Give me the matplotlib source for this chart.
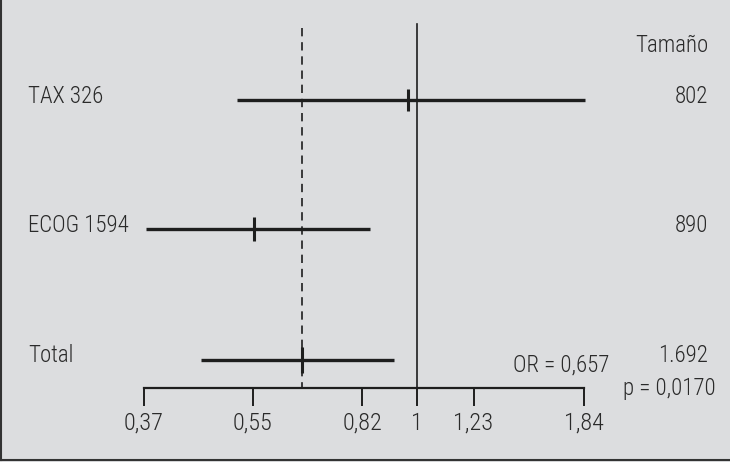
import matplotlib
matplotlib.use("Agg")
import matplotlib.pyplot as plt
from matplotlib.lines import Line2D
import numpy as np

# ---- data ----
studies = ["TAX 326", "ECOG 1594", "Total"]
or_point = [0.967, 0.553, 0.657]
ci_low = [0.519, 0.373, 0.456]
ci_high = [1.85, 0.844, 0.922]
sizes = ["802", "890", "1.692"]
tick_values = [0.37, 0.55, 0.82, 1, 1.23, 1.84]
tick_labels = ["0,37", "0,55", "0,82", "1", "1,23", "1,84"]
pooled_or = 0.657
or_text = "OR = 0,657"
p_text = "p = 0,0170"
size_header = "Tamaño"

# ---- style ----
W, H = 730, 462
bg = "#dcdddf"
ink = "#1e1e1e"
txt = "#2a2a2a"
fam = ["Roboto Condensed", "Liberation Sans Narrow", "Roboto", "DejaVu Sans"]
fs = 16.5
plt.rcParams["font.family"] = fam
plt.rcParams["font.weight"] = 300

fig = plt.figure(figsize=(W / 100, H / 100), dpi=100, facecolor=bg)
ax = fig.add_axes([0, 0, 1, 1], facecolor=bg)
ax.set_xscale("log")
# map 0.37 -> px 144 and 1.84 -> px 584
x0p, x1p = 144, 584
r = np.log(1.84 / 0.37) / (x1p - x0p)
ax.set_xlim(0.37 * np.exp(-x0p * r), 0.37 * np.exp((W - x0p) * r))
ax.set_ylim(H, 0)

row_y = [100, 229, 360]
tick_half = [11, 12, 13]
axis_y = 388

for y, p, lo, hi, th in zip(row_y, or_point, ci_low, ci_high, tick_half):
    ax.plot([lo, hi], [y, y], color=ink, lw=2.4, solid_capstyle="butt")
    ax.plot([p, p], [y - th, y + th], color=ink, lw=2.2, solid_capstyle="butt")

ax.plot([1, 1], [24, axis_y], color=ink, lw=1.2)
ax.plot([pooled_or, pooled_or], [28, axis_y], color=ink, lw=1.2,
        dashes=(5, 3.5))

# axis
for s in ["top", "left", "right"]:
    ax.spines[s].set_visible(False)
ax.spines["bottom"].set_position(("data", axis_y))
ax.spines["bottom"].set_bounds(0.37, 1.84)
ax.spines["bottom"].set_color(ink)
ax.spines["bottom"].set_linewidth(1.6)
ax.set_yticks([])
ax.set_xticks(tick_values)
ax.set_xticklabels(tick_labels)
ax.xaxis.set_minor_locator(matplotlib.ticker.NullLocator())
ax.tick_params(axis="x", direction="out", length=13, width=1.4, color=ink,
               labelsize=17.5, labelcolor=txt, pad=4)

# labels
for name, y, n in zip(studies, row_y, sizes):
    ax.text(28 / W, 1 - (y - 4) / H, name, transform=ax.transAxes,
            ha="left", va="center", fontsize=fs, color=txt)
    ax.text(708 / W, 1 - (y - 4) / H, n, transform=ax.transAxes,
            ha="right", va="center", fontsize=fs, color=txt)
ax.text(708 / W, 1 - 45 / H, size_header, transform=ax.transAxes,
        ha="right", va="center", fontsize=fs, color=txt)
ax.text(609 / W, 1 - 365 / H, or_text, transform=ax.transAxes,
        ha="right", va="center", fontsize=fs, color=txt)
ax.text(716 / W, 1 - 388 / H, p_text, transform=ax.transAxes,
        ha="right", va="center", fontsize=fs, color=txt)

# frame (left and bottom)
fig.add_artist(Line2D([1.5 / W, 1.5 / W], [1, 2.5 / H], color="#333333", lw=1.5))
fig.add_artist(Line2D([0, 1], [2.5 / H, 2.5 / H], color="#333333", lw=1.5))

fig.savefig("out.png", dpi=100, facecolor=bg)
